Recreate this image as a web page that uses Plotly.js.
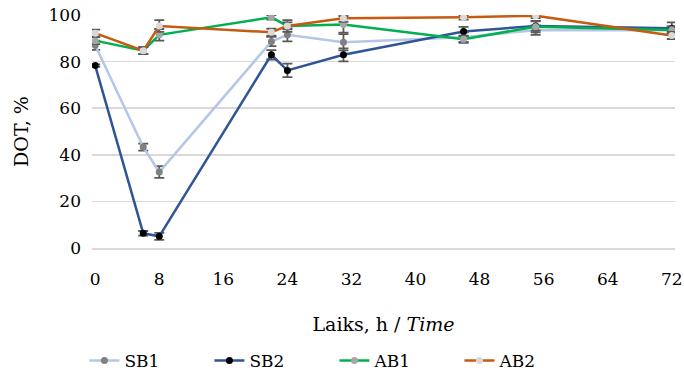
<!DOCTYPE html>
<html>
<head>
<meta charset="utf-8">
<script src="https://cdn.plot.ly/plotly-3.0.1.min.js"></script>
<style>
html,body{margin:0;padding:0;background:#fff;}
#chart{width:684px;height:387px;}
</style>
</head>
<body>
<div id="chart"></div>
<script>
const times = [0, 6, 8, 22, 24, 31, 46, 55, 72];
const sb1 = [87, 43.3, 32.6, 88.6, 91.5, 88.3, 90.5, 93.5, 93.5];
const sb2 = [78.3, 6.3, 5, 82.9, 76.2, 82.9, 92.9, 95.3, 94.3];
const ab1 = [89, 84.7, 91.5, 99, 95.3, 95.9, 89.6, 95, 93.6];
const ab2 = [92.2, 84.7, 95.3, 92.6, 95.3, 98.6, 99, 99.7, 91.2];
const sb1Err = [2, 1.5, 2.5, 2, 2.8, 3.5, 2, 2, 1.5];
const sb2Err = [0.5, 1, 1.5, 2, 2.9, 2.8, 2, 2, 2.5];
const ab1Err = [1.5, 1.5, 2.5, 1, 2.5, 3.5, 1.5, 2.5, 1.5];
const ab2Err = [1.5, 1.5, 2.5, 1.5, 1.5, 1.5, 1, 1, 1.5];
const xTicks = [0, 8, 16, 24, 32, 40, 48, 56, 64, 72];
const yTicks = [0, 20, 40, 60, 80, 100];

function series(name, y, err, lineColor, markerColor) {
  return {
    type: 'scatter', mode: 'lines+markers', name: name, x: times, y: y,
    line: {color: lineColor, width: 2.5},
    marker: {color: markerColor, size: 7},
    error_y: {type: 'data', array: err, visible: true, color: '#595959', thickness: 1.8, width: 5}
  };
}
const data = [
  series('SB1', sb1, sb1Err, '#b4c7e7', '#808080'),
  series('SB2', sb2, sb2Err, '#2f5597', '#000000'),
  series('AB1', ab1, ab1Err, '#00b050', '#a6a6a6'),
  series('AB2', ab2, ab2Err, '#c55a11', '#d9d9d9')
];
const fam = 'DejaVu Serif, Liberation Serif, serif';
const layout = {
  width: 684, height: 387,
  margin: {l: 92, r: 9, t: 15, b: 138},
  paper_bgcolor: '#fff', plot_bgcolor: '#fff',
  font: {family: fam, size: 17, color: '#000'},
  showlegend: true,
  legend: {orientation: 'h', x: -0.013, xanchor: 'left', y: -0.555, yanchor: 'bottom',
           font: {family: fam, size: 17, color: '#000'}, entrywidth: 80, entrywidthmode: 'pixels'},
  xaxis: {
    range: [-0.4, 72.4], tickvals: xTicks, ticktext: xTicks.map(String),
    showgrid: false, zeroline: false, showline: true, linecolor: '#d9d9d9', linewidth: 1.5,
    ticks: '', ticklabelstandoff: 15,
    tickfont: {family: fam, size: 17, color: '#000'},
    title: {text: 'Laiks, h / <i>Time</i>', font: {family: fam, size: 19, color: '#000'}, standoff: 30}
  },
  yaxis: {
    range: [0, 100], tickvals: yTicks, ticktext: yTicks.map(String),
    showgrid: true, gridcolor: '#d9d9d9', gridwidth: 1.5,
    zeroline: false, showline: false, ticks: '', ticklabelstandoff: 10,
    tickfont: {family: fam, size: 17, color: '#000'},
    title: {text: 'DOT, %', font: {family: fam, size: 19, color: '#000'}, standoff: 14}
  }
};
Plotly.newPlot('chart', data, layout, {displayModeBar: false, staticPlot: true});
</script>
</body>
</html>
